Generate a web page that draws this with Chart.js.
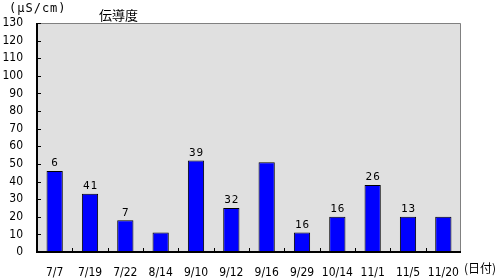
<!DOCTYPE html>
<html>
<head>
<meta charset="utf-8">
<script src="https://cdn.jsdelivr.net/npm/chart.js@4"></script>
<style>
  html, body { margin: 0; padding: 0; background: #fff; }
  #wrap { width: 502px; height: 279px; }
</style>
</head>
<body>
<div id="wrap"><canvas id="chart" width="502" height="279"></canvas></div>
<script>
// data
let dates = ['7/7', '7/19', '7/22', '8/14', '9/10', '9/12', '9/16', '9/29', '10/14', '11/1', '11/5', '11/20'];
let conductivity = [46, 33, 18, 11, 52, 25, 51, 11, 20, 38, 20, 20];
let barNotes = ['6', '41', '7', '', '39', '32', '', '16', '16', '26', '13', ''];
let yTicks = [0, 10, 20, 30, 40, 50, 60, 70, 80, 90, 100, 110, 120, 130];

let tickFamily = "'Liberation Sans Narrow', 'DejaVu Sans Condensed', sans-serif";

// grey plot area, frame, inward ticks, notes and captions
let decor = {
  id: 'decor',
  beforeDraw(chart) {
    let a = chart.chartArea;
    let ctx = chart.ctx;
    ctx.save();
    ctx.fillStyle = '#e0e0e0';
    ctx.fillRect(a.left, a.top, a.right - a.left, a.bottom - a.top);
    ctx.restore();
  },
  afterDatasetsDraw(chart) {
    let a = chart.chartArea;
    let ctx = chart.ctx;
    let x = chart.scales.x;
    let y = chart.scales.y;
    ctx.save();
    // frame: grey top/right, black axes
    ctx.lineWidth = 1;
    ctx.strokeStyle = '#808080';
    ctx.beginPath();
    ctx.moveTo(a.left, a.top + 0.5);
    ctx.lineTo(a.right - 0.5, a.top + 0.5);
    ctx.lineTo(a.right - 0.5, a.bottom);
    ctx.stroke();
    ctx.strokeStyle = '#000';
    ctx.lineWidth = 2;
    ctx.beginPath();
    ctx.moveTo(a.left, a.top);
    ctx.lineTo(a.left, a.bottom);
    ctx.lineTo(a.right, a.bottom);
    ctx.stroke();
    // inward ticks
    ctx.lineWidth = 1;
    ctx.beginPath();
    yTicks.forEach(v => {
      let py = Math.round(y.getPixelForValue(v)) + 0.5;
      ctx.moveTo(a.left, py);
      ctx.lineTo(a.left + 4, py);
    });
    for (let i = 1; i < dates.length; i++) {
      let px = Math.round((x.getPixelForValue(i - 1) + x.getPixelForValue(i)) / 2) + 0.5;
      ctx.moveTo(px, a.bottom);
      ctx.lineTo(px, a.bottom - 4);
    }
    ctx.stroke();
    // notes above bars
    ctx.fillStyle = '#000';
    ctx.font = "11px 'DejaVu Sans Mono', monospace";
    ctx.letterSpacing = '1px';
    ctx.textAlign = 'center';
    ctx.textBaseline = 'bottom';
    let meta = chart.getDatasetMeta(0);
    meta.data.forEach((bar, i) => {
      if (!barNotes[i]) return;
      ctx.fillText(barNotes[i], bar.x + 0.5, bar.y - 2);
    });
    // captions
    ctx.textAlign = 'left';
    ctx.textBaseline = 'middle';
    ctx.font = "12px 'DejaVu Sans Mono', monospace";
    ctx.fillText('(μS/cm)', 9, 9);
    ctx.letterSpacing = '0px';
    ctx.font = "13px 'Noto Sans CJK JP', sans-serif";
    ctx.fillText('伝導度', 99, 15);
    ctx.font = "12px 'Noto Sans CJK JP', sans-serif";
    ctx.fillText('(日付)', 464, 268);
    ctx.restore();
  }
};

new Chart(document.getElementById('chart'), {
  type: 'bar',
  data: {
    labels: dates,
    datasets: [{
      data: conductivity,
      backgroundColor: '#0000ff',
      borderColor: '#000',
      borderWidth: 1,
      categoryPercentage: 1,
      barPercentage: 0.46
    }]
  },
  options: {
    responsive: false,
    animation: false,
    layout: { padding: { top: 23, right: 41, left: 0, bottom: 0 } },
    plugins: {
      legend: { display: false },
      tooltip: { enabled: false }
    },
    scales: {
      x: {
        grid: { display: false },
        border: { display: false },
        ticks: { color: '#000', font: { family: tickFamily, size: 12 }, padding: 6, maxRotation: 0, autoSkip: false },
        afterFit(s) { s.height = 27; }
      },
      y: {
        min: 0,
        max: 130,
        grid: { display: false },
        border: { display: false },
        ticks: { stepSize: 10, color: '#000', font: { family: tickFamily, size: 12 }, padding: 6 },
        afterFit(s) { s.width = 37; }
      }
    }
  },
  plugins: [decor]
});
</script>
</body>
</html>
